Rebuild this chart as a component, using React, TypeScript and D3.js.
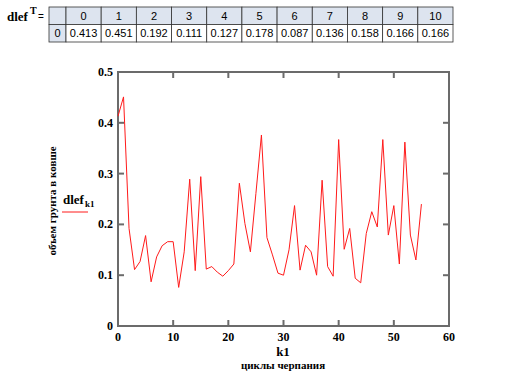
import React from "react";
import * as d3 from "d3";

const tableIdx = [0, 1, 2, 3, 4, 5, 6, 7, 8, 9, 10];
const dlef = [
  0.413, 0.451, 0.192, 0.111, 0.127, 0.178, 0.087, 0.136, 0.158, 0.166, 0.166,
  0.076, 0.146, 0.289, 0.109, 0.294, 0.112, 0.117, 0.106, 0.098, 0.109,
  0.122, 0.281, 0.202, 0.146, 0.261, 0.376, 0.174, 0.14, 0.104, 0.1,
  0.15, 0.237, 0.11, 0.159, 0.146, 0.1, 0.287, 0.117, 0.098, 0.367,
  0.151, 0.192, 0.094, 0.085, 0.182, 0.225, 0.195, 0.367, 0.179, 0.237,
  0.122, 0.362, 0.179, 0.13, 0.24,
];
const xTicks = [0, 10, 20, 30, 40, 50, 60];
const yTicks = [0, 0.1, 0.2, 0.3, 0.4, 0.5];
const yTickLabels = ["0", "0.1", "0.2", "0.3", "0.4", "0.5"];

const serifStyle = { fontFamily: "Liberation Serif, DejaVu Serif, serif", fontWeight: 700 } as const;
const sansStyle = { fontFamily: "Liberation Sans, Arial, sans-serif" } as const;

export default function App() {
  const W = 527, H = 389;
  const x = d3.scaleLinear().domain([0, 60]).range([118, 449]);
  const y = d3.scaleLinear().domain([0, 0.5]).range([326, 72]);
  const line = d3.line<number>().x((_, i) => x(i)).y((d) => y(d));
  const frame = "#6b6b6b";

  const tLeft = 49, tTop = 7, rowH = 17.5, firstW = 17;
  const colW = d3.scaleLinear().domain([0, 11]).range([tLeft + firstW, 453]);

  return (
    <svg width={W} height={H} style={{ position: "absolute", left: 0, top: 0, background: "#fff" }}>
      {/* table label */}
      <text x={7} y={21} style={serifStyle} fontSize={13}>dlef</text>
      <text x={30} y={14} style={serifStyle} fontSize={10}>T</text>
      <text x={38} y={20} style={sansStyle} fontSize={10}>=</text>
      {/* table */}
      <rect x={tLeft} y={tTop} width={firstW} height={rowH} fill="#dde4ef" stroke="#333" strokeWidth={0.8} />
      <rect x={tLeft} y={tTop + rowH} width={firstW} height={rowH} fill="#dde4ef" stroke="#333" strokeWidth={0.8} />
      <text x={tLeft + firstW / 2} y={tTop + rowH + 12.5} textAnchor="middle" style={sansStyle} fontSize={11}>0</text>
      {tableIdx.map((k) => (
        <g key={k}>
          <rect x={colW(k)} y={tTop} width={colW(k + 1) - colW(k)} height={rowH} fill="#dde4ef" stroke="#333" strokeWidth={0.8} />
          <rect x={colW(k)} y={tTop + rowH} width={colW(k + 1) - colW(k)} height={rowH} fill="#fff" stroke="#333" strokeWidth={0.8} />
          <text x={(colW(k) + colW(k + 1)) / 2} y={tTop + 12.5} textAnchor="middle" style={sansStyle} fontSize={11}>{k}</text>
          <text x={(colW(k) + colW(k + 1)) / 2} y={tTop + rowH + 12.5} textAnchor="middle" style={sansStyle} fontSize={11}>{dlef[k].toFixed(3)}</text>
        </g>
      ))}

      {/* frame */}
      <rect x={118} y={72} width={331} height={254} fill="none" stroke={frame} strokeWidth={2} />
      {xTicks.map((t) => (
        <g key={"x" + t}>
          <line x1={x(t)} x2={x(t)} y1={326} y2={320} stroke={frame} strokeWidth={2} />
          <line x1={x(t)} x2={x(t)} y1={72} y2={78} stroke={frame} strokeWidth={2} />
          <text x={x(t)} y={341} textAnchor="middle" style={serifStyle} fontSize={12}>{t}</text>
        </g>
      ))}
      {yTicks.map((t, i) => (
        <g key={"y" + t}>
          <line x1={118} x2={124} y1={y(t)} y2={y(t)} stroke={frame} strokeWidth={2} />
          <line x1={449} x2={443} y1={y(t)} y2={y(t)} stroke={frame} strokeWidth={2} />
          <text x={113} y={y(t) + 4} textAnchor="end" style={serifStyle} fontSize={12}>{yTickLabels[i]}</text>
        </g>
      ))}
      <path d={line(dlef) || ""} fill="none" stroke="#ff1a1a" strokeWidth={1} />

      {/* axis labels */}
      <text x={283} y={356} textAnchor="middle" style={serifStyle} fontSize={13}>k1</text>
      <text x={283} y={369} textAnchor="middle" style={serifStyle} fontSize={11}>циклы черпания</text>
      <text transform="translate(56,201) rotate(-90)" textAnchor="middle" style={serifStyle} fontSize={11}>объем грунта в ковше</text>
      {/* legend */}
      <text x={63} y={204} style={serifStyle} fontSize={13}>dlef</text>
      <text x={85} y={207} style={serifStyle} fontSize={9}>k1</text>
      <line x1={62} x2={88} y1={212} y2={212} stroke="#ff1a1a" strokeWidth={1} />
    </svg>
  );
}
